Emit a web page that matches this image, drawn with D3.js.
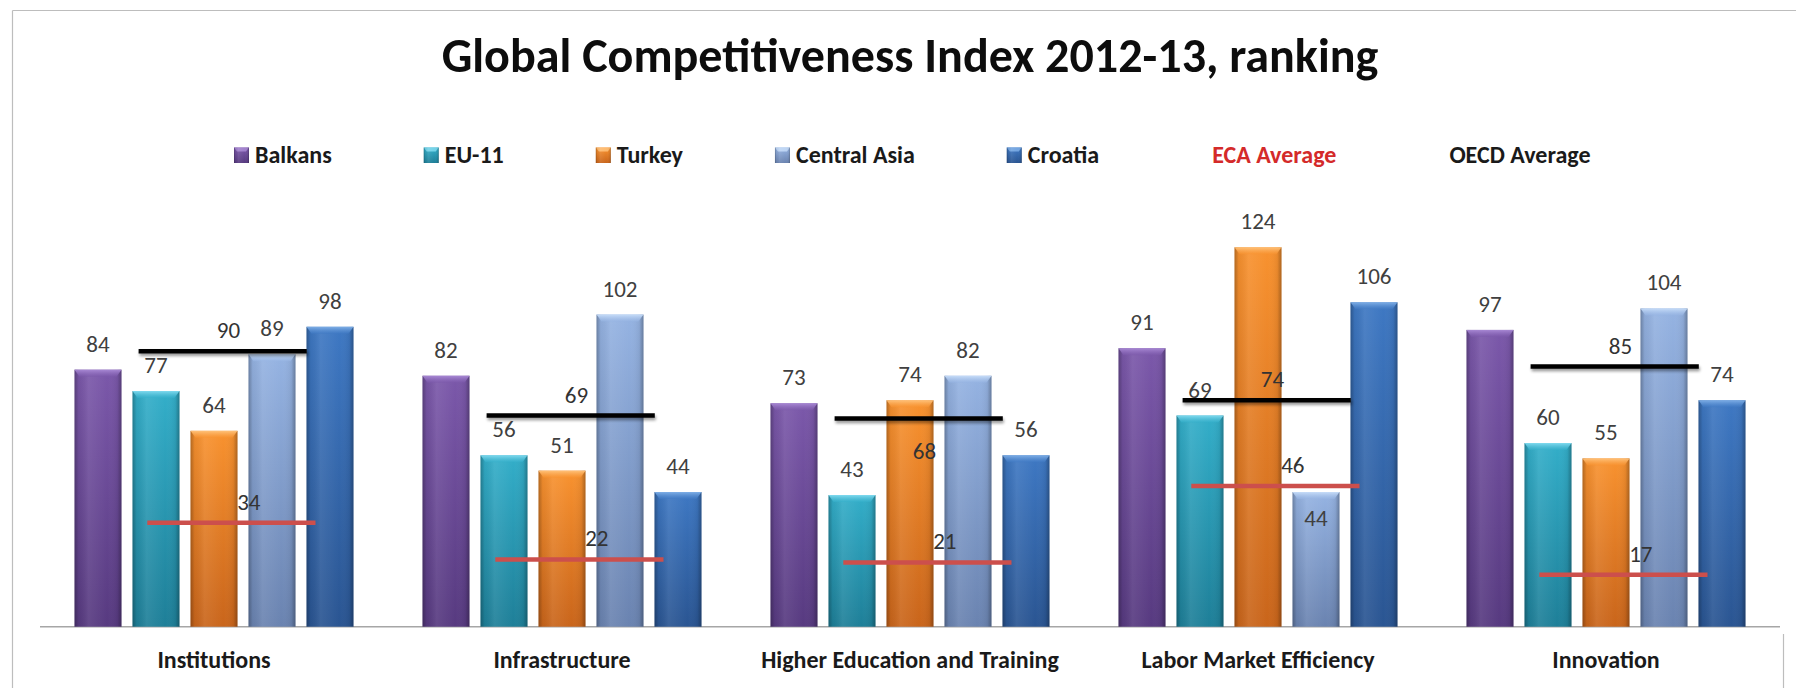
<!DOCTYPE html>
<html>
<head>
<meta charset="utf-8">
<script src="https://cdn.jsdelivr.net/npm/d3@7"></script>
<style>
  html, body { margin: 0; padding: 0; background: #ffffff; }
  svg { display: block; }
  text { font-family: Carlito, Lato, "Open Sans", sans-serif; }
</style>
</head>
<body>
<svg id="chart" width="1796" height="688"></svg>
<script>
// Global Competitiveness Index 2012-13 rankings by pillar
const categories = ["Institutions", "Infrastructure", "Higher Education and Training", "Labor Market Efficiency", "Innovation"];
const seriesNames = ["Balkans", "EU-11", "Turkey", "Central Asia", "Croatia"];
const balkans     = [84, 82, 73, 91, 97];
const eu11        = [77, 56, 43, 69, 60];
const turkey      = [64, 51, 74, 124, 55];
const centralAsia = [89, 102, 82, 44, 104];
const croatia     = [98, 44, 56, 106, 74];
const ecaAverage  = [34, 22, 21, 46, 17];
const oecdAverage = [90, 69, 68, 74, 85];
const titleText = "Global Competitiveness Index 2012-13, ranking";

const seriesValues = [balkans, eu11, turkey, centralAsia, croatia];

// bar fills: [top, bottom, bevel highlight]
const palette = [
  ["#7b58aa", "#573a80", "#a888d4"],
  ["#33aec9", "#1e7f98", "#7fd9ee"],
  ["#f8922f", "#c9651b", "#ffc27a"],
  ["#95b3e2", "#6a83b0", "#c6dcf8"],
  ["#3e78c3", "#2a5592", "#7eaee6"]
];

const svg = d3.select("#chart");

// chart frame
const frame = svg.append("g").attr("stroke", "#bdbdbd").attr("stroke-width", 1.2);
frame.append("line").attr("x1", 12.5).attr("x2", 12.5).attr("y1", 10.5).attr("y2", 688);
frame.append("line").attr("x1", 12.5).attr("x2", 1796).attr("y1", 10.5).attr("y2", 10.5);
frame.append("line").attr("x1", 1783.5).attr("x2", 1783.5).attr("y1", 634).attr("y2", 688);

const defs = svg.append("defs");
palette.forEach((c, i) => {
  const g = defs.append("linearGradient").attr("id", "fill" + i)
    .attr("x1", 0).attr("y1", 0).attr("x2", 0).attr("y2", 1);
  g.append("stop").attr("offset", "0%").attr("stop-color", c[0]);
  g.append("stop").attr("offset", "100%").attr("stop-color", c[1]);
  const b = defs.append("linearGradient").attr("id", "bevel" + i)
    .attr("x1", 0).attr("y1", 0).attr("x2", 0).attr("y2", 1);
  b.append("stop").attr("offset", "0%").attr("stop-color", c[2]).attr("stop-opacity", 1);
  b.append("stop").attr("offset", "100%").attr("stop-color", c[0]).attr("stop-opacity", 0.6);
});
const side = defs.append("linearGradient").attr("id", "sideShade")
  .attr("x1", 0).attr("y1", 0).attr("x2", 1).attr("y2", 0);
[[0, "#000", 0.28], [0.09, "#000", 0.05], [0.3, "#fff", 0.08], [0.7, "#fff", 0.0], [0.91, "#000", 0.06], [1, "#000", 0.3]]
  .forEach(s => side.append("stop").attr("offset", s[0]).attr("stop-color", s[1]).attr("stop-opacity", s[2]));
const blur = defs.append("filter").attr("id", "softShadow")
  .attr("filterUnits", "userSpaceOnUse").attr("x", 0).attr("y", 0).attr("width", 1796).attr("height", 688);
blur.append("feGaussianBlur").attr("stdDeviation", 1.4);

// scales
const baseY = 626.7;
const x0 = d3.scaleBand().domain(categories).range([40, 1780]);
const bw = x0.bandwidth();
const x1 = d3.scaleBand().domain(seriesNames).range([bw / 12, bw * 11 / 12])
  .paddingInner(0.19).paddingOuter(0.095);
const slot = d3.scaleLinear().domain([0, seriesNames.length]).range([bw / 12, bw * 11 / 12]);
const y = d3.scaleLinear().domain([0, 140]).range([baseY, baseY - 140 * 3.06]);

// title
const title = svg.append("text")
  .attr("x", 910).attr("y", 72).attr("text-anchor", "middle")
  .attr("font-weight", "bold").attr("font-size", 40).attr("fill", "#0d0d0d")
  .text(titleText);
const tl = title.node().getComputedTextLength();
title.attr("font-size", 40 * 937 / tl);

// legend
const legendItems = seriesNames.map((s, i) => ({ name: s, swatch: i, color: "#1a1a1a" }))
  .concat([{ name: "ECA Average", swatch: -1, color: "#d42a2a" },
           { name: "OECD Average", swatch: -1, color: "#1a1a1a" }]);
let lx = 234;
const legend = svg.append("g");
legendItems.forEach(item => {
  if (item.swatch >= 0) {
    legend.append("rect").attr("x", lx).attr("y", 147.5).attr("width", 15).attr("height", 15.5)
      .attr("fill", "url(#fill" + item.swatch + ")");
    legend.append("path")
      .attr("d", `M${lx},147.5 h15 l-3,4 h-9 z`)
      .attr("fill", palette[item.swatch][2]).attr("opacity", 0.85);
    legend.append("rect").attr("x", lx).attr("y", 147.5).attr("width", 15).attr("height", 15.5)
      .attr("fill", "url(#sideShade)");
  }
  const t = legend.append("text").attr("x", lx + 21).attr("y", 163.3)
    .attr("font-size", 24).attr("font-weight", "bold").attr("fill", item.color)
    .text(item.name);
  lx += 21 + t.node().getComputedTextLength() + 92;
});

// baseline axis
svg.append("line")
  .attr("x1", x0.range()[0]).attr("x2", x0.range()[1])
  .attr("y1", baseY).attr("y2", baseY)
  .attr("stroke", "#a6a6a6").attr("stroke-width", 1.6);

// category labels
svg.append("g").selectAll("text").data(categories).join("text")
  .attr("x", d => x0(d) + bw / 2).attr("y", 668)
  .attr("text-anchor", "middle").attr("font-size", 24).attr("font-weight", "bold")
  .attr("fill", "#1a1a1a").text(d => d);

// bars
const barData = [];
categories.forEach((c, ci) => {
  seriesNames.forEach((s, si) => {
    barData.push({ c, ci, s, si, v: seriesValues[si][ci] });
  });
});
const bars = svg.append("g");
barData.forEach(d => {
  const bx = x0(d.c) + x1(d.s), w = x1.bandwidth(), top = y(d.v), h = baseY - top;
  bars.append("rect").attr("x", bx).attr("y", top).attr("width", w).attr("height", h)
    .attr("fill", `url(#fill${d.si})`);
  bars.append("rect").attr("x", bx).attr("y", top).attr("width", w).attr("height", h)
    .attr("fill", "url(#sideShade)");
  bars.append("path")
    .attr("d", `M${bx},${top} h${w} l-5,7 h${-(w - 10)} z`)
    .attr("fill", `url(#bevel${d.si})`);
});

// value labels; one label sits inside its bar to stay clear of the ECA line
const insideLabels = [[3, 3]];
const isInside = d => insideLabels.some(p => p[0] === d.ci && p[1] === d.si);
svg.append("g").selectAll("text").data(barData).join("text")
  .attr("x", d => x0(d.c) + x1(d.s) + x1.bandwidth() / 2)
  .attr("y", d => isInside(d) ? y(d.v) + 34 : y(d.v) - 18)
  .attr("text-anchor", "middle").attr("font-size", 23).attr("fill", "#404040")
  .text(d => d.v);

// average markers
const averages = [
  { name: "OECD Average", values: oecdAverage, color: "#000000", shadow: true, from: 1.2, to: 4.1, labelAt: 2.75, below: [2] },
  { name: "ECA Average", values: ecaAverage, color: "#cc4f4c", shadow: false, from: 1.35, to: 4.25, labelAt: 3.1, below: [] }
];
averages.forEach(a => {
  const g = svg.append("g");
  if (a.shadow) {
    g.append("g").attr("filter", "url(#softShadow)").attr("opacity", 0.4)
      .selectAll("line").data(categories).join("line")
      .attr("x1", c => x0(c) + slot(a.from) + 1).attr("x2", c => x0(c) + slot(a.to) + 1)
      .attr("y1", (c, i) => y(a.values[i]) + 2.5).attr("y2", (c, i) => y(a.values[i]) + 2.5)
      .attr("stroke", "#000").attr("stroke-width", 4.5);
  }
  g.append("g").selectAll("line").data(categories).join("line")
    .attr("x1", c => x0(c) + slot(a.from)).attr("x2", c => x0(c) + slot(a.to))
    .attr("y1", (c, i) => y(a.values[i])).attr("y2", (c, i) => y(a.values[i]))
    .attr("stroke", a.color).attr("stroke-width", 4.5);
});
averages.forEach(a => {
  svg.append("g").selectAll("text").data(categories).join("text")
    .attr("x", c => x0(c) + slot(a.labelAt))
    .attr("y", (c, i) => a.below.includes(i) ? y(a.values[i]) + 40 : y(a.values[i]) - 13)
    .attr("text-anchor", "middle").attr("font-size", 23).attr("fill", "#333333")
    .text((c, i) => a.values[i]);
});
</script>
</body>
</html>
